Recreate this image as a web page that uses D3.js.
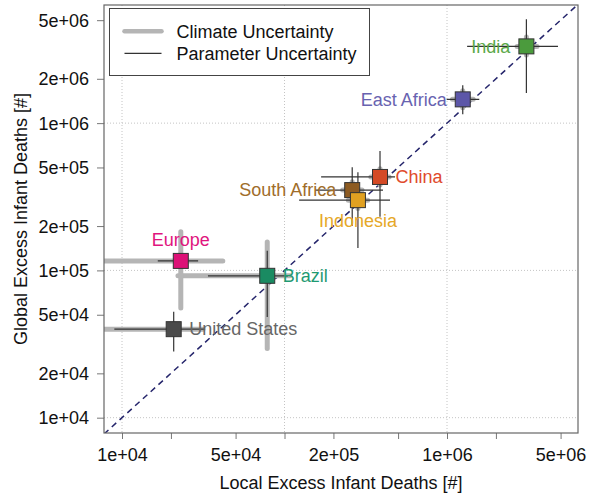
<!DOCTYPE html>
<html>
<head>
<meta charset="utf-8">
<script src="https://cdn.jsdelivr.net/npm/d3@7"></script>
<style>
  html, body { margin: 0; padding: 0; background: #fff; }
  svg { display: block; font-family: "Liberation Sans", Arial, Helvetica, sans-serif; }
</style>
</head>
<body>
<svg id="chart" width="597" height="499"></svg>
<script>
// ---- Data ----
const regions = ["India", "East Africa", "China", "South Africa", "Indonesia", "Europe", "Brazil", "United States"];
const localDeaths  = [3.08e6, 1.25e6, 3.87e5, 2.61e5, 2.83e5, 2.30e4, 7.83e4, 2.08e4];
const globalDeaths = [3.32e6, 1.45e6, 4.31e5, 3.51e5, 3.00e5, 1.16e5, 9.19e4, 3.99e4];
// Parameter uncertainty ranges
const paramLocalLow   = [1.33e6, 9.95e5, 1.68e5, 1.54e5, 1.23e5, 1.66e4, 3.38e4, 8.97e3];
const paramLocalHigh  = [4.82e6, 1.58e6, 4.79e5, 4.04e5, 4.46e5, 2.94e4, 1.05e5, 3.24e4];
const paramGlobalLow  = [1.60e6, 1.15e6, 2.31e5, 2.00e5, 1.42e5, 1.05e5, 4.82e4, 2.81e4];
const paramGlobalHigh = [5.08e6, 1.81e6, 6.46e5, 5.02e5, 4.64e5, 1.28e5, 1.36e5, 5.24e4];
// Climate uncertainty ranges
const climLocalLow   = [2.70e6, 1.08e6, 3.40e5, 2.28e5, 2.47e5, 6.0e3, 2.21e4, 6.0e3];
const climLocalHigh  = [3.58e6, 1.45e6, 4.40e5, 3.00e5, 3.25e5, 4.17e4, 1.08e5, 3.15e4];
const climGlobalLow  = [2.90e6, 1.27e6, 3.80e5, 3.08e5, 2.63e5, 5.55e4, 2.95e4, 3.70e4];
const climGlobalHigh = [3.84e6, 1.66e6, 4.90e5, 4.00e5, 3.42e5, 1.83e5, 1.56e5, 4.30e4];
// Label placement side for each region
const labelSide = ["left", "left", "right", "left", "below", "above", "right", "right"];
// Axis ticks
const yTicks = [1e4, 2e4, 5e4, 1e5, 2e5, 5e5, 1e6, 2e6, 5e6];
const xTicks = [1e4, 2e4, 5e4, 1e5, 2e5, 5e5, 1e6, 2e6, 5e6];
const xTickLabels = [1e4, 5e4, 2e5, 1e6, 5e6];
const gridValues = [1e4, 1e5, 1e6];
const legendLabels = ["Climate Uncertainty", "Parameter Uncertainty"];

// ---- Styles ----
const squareColors = ["#4b9b3d", "#5c56a8", "#d44a26", "#8d5b22", "#e0a021", "#dd1177", "#1a8b62", "#4b4b4b"];
const textColors   = ["#5aa848", "#6863b0", "#e04a2c", "#a06d2a", "#e6a828", "#e0157e", "#1f9a72", "#666666"];

const svg = d3.select("#chart");
const L = 104, R = 578, T = 5, B = 433;
const fmt = v => {
  const e = Math.floor(Math.log10(v) + 1e-9);
  const m = Math.round(v / Math.pow(10, e));
  return m + "e+" + String(e).padStart(2, "0");
};

const x = d3.scaleLog().domain([7747, 6.40e6]).range([L, R]);
const y = d3.scaleLog().domain([7870, 6.34e6]).range([B, T]);

svg.append("defs").append("clipPath").attr("id", "clip")
  .append("rect").attr("x", L).attr("y", T).attr("width", R - L).attr("height", B - T);

// Grid
const grid = svg.append("g");
grid.selectAll(".gx").data(gridValues).join("line")
  .attr("x1", d => x(d)).attr("x2", d => x(d)).attr("y1", T).attr("y2", B)
  .attr("stroke", "#c4c4c4").attr("stroke-width", 1).attr("stroke-dasharray", "1,2");
grid.selectAll(".gy").data(gridValues).join("line")
  .attr("y1", d => y(d)).attr("y2", d => y(d)).attr("x1", L).attr("x2", R)
  .attr("stroke", "#c4c4c4").attr("stroke-width", 1).attr("stroke-dasharray", "1,2");

// Axes
const xAxis = d3.axisBottom(x).tickValues(xTicks).tickSize(6)
  .tickFormat(d => xTickLabels.includes(d) ? fmt(d) : "");
const gx = svg.append("g").attr("transform", `translate(0,${B})`).call(xAxis);
gx.select(".domain").remove();
gx.selectAll(".tick line").attr("stroke", "#777");
gx.selectAll(".tick text").attr("font-size", 18).attr("fill", "#111").attr("dy", "0").attr("y", 28);

const yAxis = d3.axisLeft(y).tickValues(yTicks).tickSize(7).tickFormat(fmt);
const gy = svg.append("g").attr("transform", `translate(${L},0)`).call(yAxis);
gy.select(".domain").remove();
gy.selectAll(".tick line").attr("stroke", "#777");
gy.selectAll(".tick text").attr("font-size", 18).attr("fill", "#111").attr("x", -15).attr("dy", "0.34em");

// Axis titles
svg.append("text").attr("x", (L + R) / 2).attr("y", 489).attr("text-anchor", "middle")
  .attr("font-size", 18).attr("fill", "#111").text("Local Excess Infant Deaths [#]");
svg.append("text").attr("transform", `translate(27,${(T + B) / 2}) rotate(-90)`)
  .attr("text-anchor", "middle").attr("font-size", 18).attr("fill", "#111")
  .text("Global Excess Infant Deaths [#]");

// Plot content (clipped)
const plot = svg.append("g").attr("clip-path", "url(#clip)");

// 1:1 line
plot.append("line")
  .attr("x1", x(x.domain()[0])).attr("y1", y(x.domain()[0]))
  .attr("x2", x(x.domain()[1])).attr("y2", y(x.domain()[1]))
  .attr("stroke", "#25256b").attr("stroke-width", 1.5).attr("stroke-dasharray", "6,4.5");

const idx = d3.range(regions.length);

// Climate uncertainty (thick gray)
plot.selectAll(".ch").data(idx).join("line")
  .attr("x1", i => x(climLocalLow[i])).attr("x2", i => x(climLocalHigh[i]))
  .attr("y1", i => y(globalDeaths[i])).attr("y2", i => y(globalDeaths[i]))
  .attr("stroke", "#b5b5b5").attr("stroke-width", 5).attr("stroke-linecap", "round");
plot.selectAll(".cv").data(idx).join("line")
  .attr("y1", i => y(climGlobalLow[i])).attr("y2", i => y(climGlobalHigh[i]))
  .attr("x1", i => x(localDeaths[i])).attr("x2", i => x(localDeaths[i]))
  .attr("stroke", "#b5b5b5").attr("stroke-width", 5).attr("stroke-linecap", "round");

// Parameter uncertainty (thin dark)
plot.selectAll(".ph").data(idx).join("line")
  .attr("x1", i => x(paramLocalLow[i])).attr("x2", i => x(paramLocalHigh[i]))
  .attr("y1", i => y(globalDeaths[i])).attr("y2", i => y(globalDeaths[i]))
  .attr("stroke", "#333").attr("stroke-width", 1.2);
plot.selectAll(".pv").data(idx).join("line")
  .attr("y1", i => y(paramGlobalLow[i])).attr("y2", i => y(paramGlobalHigh[i]))
  .attr("x1", i => x(localDeaths[i])).attr("x2", i => x(localDeaths[i]))
  .attr("stroke", "#333").attr("stroke-width", 1.2);

// Squares
const S = 15;
plot.selectAll(".sq").data(idx).join("rect")
  .attr("x", i => x(localDeaths[i]) - S / 2).attr("y", i => y(globalDeaths[i]) - S / 2)
  .attr("width", S).attr("height", S)
  .attr("fill", i => squareColors[i]).attr("stroke", "#333").attr("stroke-width", 1);

// Labels
svg.selectAll(".lab").data(idx).join("text")
  .attr("font-size", 18)
  .attr("fill", i => textColors[i])
  .attr("text-anchor", i => labelSide[i] === "left" ? "end" : labelSide[i] === "right" ? "start" : "middle")
  .attr("x", i => {
    const cx = x(localDeaths[i]);
    return labelSide[i] === "left" ? cx - 16 : labelSide[i] === "right" ? cx + 15.5 : cx;
  })
  .attr("y", i => {
    const cy = y(globalDeaths[i]);
    return labelSide[i] === "above" ? cy - 15 : labelSide[i] === "below" ? cy + 27 : cy + 6.3;
  })
  .text(i => regions[i]);

// Box
svg.append("rect").attr("x", L).attr("y", T).attr("width", R - L).attr("height", B - T)
  .attr("fill", "none").attr("stroke", "#666").attr("stroke-width", 1.2);

// Legend
const lg = svg.append("g");
lg.append("rect").attr("x", 109.5).attr("y", 8.5).attr("width", 260).attr("height", 67)
  .attr("fill", "#fff").attr("stroke", "#444").attr("stroke-width", 1);
const legendY = [31.3, 53.3];
const legendStroke = ["#b5b5b5", "#333"];
const legendWidth = [4.5, 1.2];
lg.selectAll(".ll").data(legendLabels).join("line")
  .attr("x1", 124.5).attr("x2", 161.5)
  .attr("y1", (d, i) => legendY[i]).attr("y2", (d, i) => legendY[i])
  .attr("stroke", (d, i) => legendStroke[i]).attr("stroke-width", (d, i) => legendWidth[i])
  .attr("stroke-linecap", (d, i) => i === 0 ? "round" : "butt");
lg.selectAll(".lt").data(legendLabels).join("text")
  .attr("x", 176.5).attr("y", (d, i) => legendY[i] + 6.3)
  .attr("font-size", 18).attr("fill", "#111").text(d => d);
</script>
</body>
</html>
